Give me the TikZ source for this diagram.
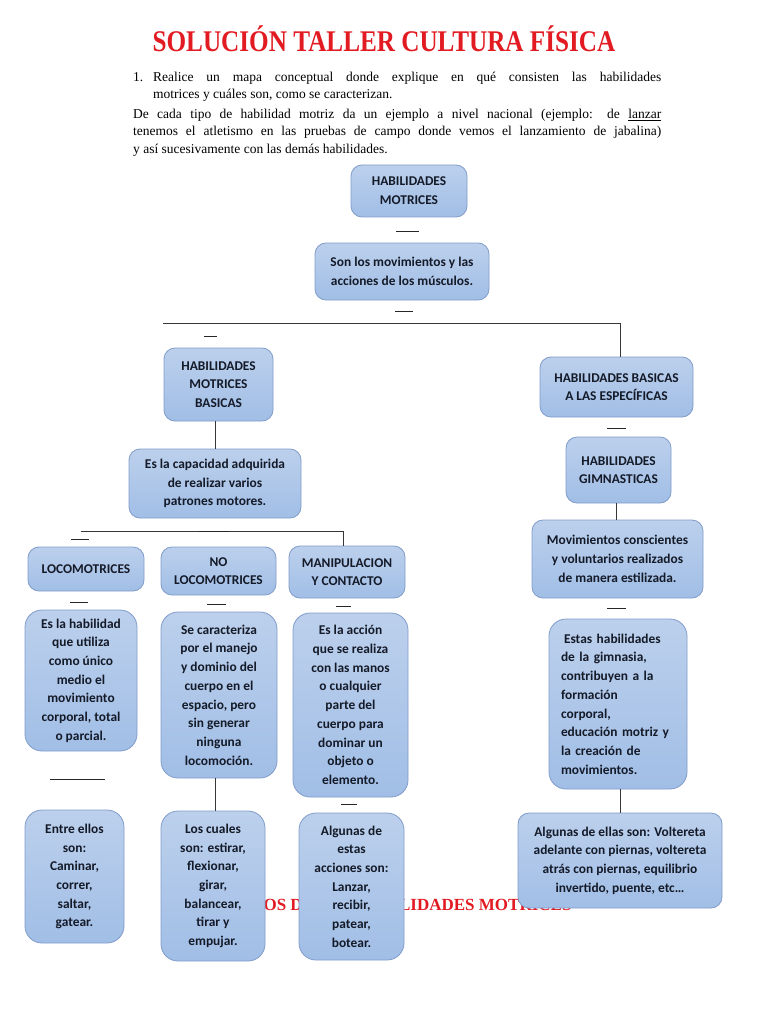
\documentclass[tikz,border=0pt]{standalone}
\usepackage{fontspec}
\setmainfont{Liberation Serif}
\newfontfamily\boxfont{Carlito}
\definecolor{titlered}{RGB}{226,27,34}
\definecolor{boxtop}{RGB}{188,208,236}
\definecolor{boxbot}{RGB}{161,190,230}
\definecolor{boxline}{RGB}{128,156,202}
\definecolor{boxtext}{RGB}{20,26,40}
\definecolor{linkgray}{RGB}{55,55,55}
\tikzset{
  mapbox/.style={draw=boxline, line width=0.8pt, rounded corners=11pt,
    top color=boxtop, bottom color=boxbot, text=boxtext, align=center,
    inner sep=2pt, font=\boxfont\bfseries\fontsize{13.4}{18.7}\selectfont},
  tallbox/.style={mapbox, rounded corners=17pt},
  link/.style={draw=linkgray, line width=0.9pt},
  tick/.style={draw=black!85, line width=1pt},
  bodytext/.style={anchor=base west, inner sep=0pt, font=\fontsize{13.5}{17}\selectfont},
}
\begin{document}
\begin{tikzpicture}[x=1pt, y=-1pt]
\useasboundingbox[fill=white] (0,0) rectangle (768,1024);

% heading and task
\node[anchor=base, inner sep=0pt, text=titlered, font=\bfseries\fontsize{30}{32}\selectfont]
  (title) at (384,52) {\scalebox{0.84}[1]{SOLUCIÓN TALLER CULTURA FÍSICA}};
\node[bodytext] (line1) at (133,82) {\makebox[20pt][l]{1.}\makebox[508pt][s]{Realice un mapa conceptual donde explique en qué consisten las habilidades}};
\node[bodytext] (line2) at (153,99) {motrices y cuáles son, como se caracterizan.};
\node[bodytext] (line3) at (133,119) {\makebox[528pt][s]{De cada tipo de habilidad motriz da un ejemplo a nivel nacional (ejemplo: de \underline{lanzar}}};
\node[bodytext] (line4) at (133,136) {\makebox[528pt][s]{tenemos el atletismo en las pruebas de campo donde vemos el lanzamiento de jabalina)}};
\node[bodytext] (line5) at (133,154) {y así sucesivamente con las demás habilidades.};

% red heading hidden behind the boxes
\node[anchor=base west, inner sep=0pt, text=titlered, font=\bfseries\fontsize{17}{19}\selectfont]
  (types) at (235,910) {TIPOS DE LAS HABILIDADES MOTRICES};

% top of the map
\node[mapbox, minimum width=116pt, minimum height=52pt] (motrices) at (409,191) {HABILIDADES\\MOTRICES};
\node[mapbox, minimum width=174pt, minimum height=57pt] (movs) at (402,271.5) {Son los movimientos y las\\acciones de los músculos.};

% left branch
\node[mapbox, minimum width=109pt, minimum height=73pt] (basicas) at (218.5,384.5) {HABILIDADES\\MOTRICES\\BASICAS};
\node[mapbox, minimum width=172pt, minimum height=69pt] (capacidad) at (215,483.5) {Es la capacidad adquirida\\de realizar varios\\patrones motores.};

\node[mapbox, minimum width=116pt, minimum height=44pt] (loco) at (86,569) {LOCOMOTRICES};
\node[mapbox, minimum width=115pt, minimum height=48pt] (noloco) at (218.5,571) {NO\\LOCOMOTRICES};
\node[mapbox, minimum width=116pt, minimum height=52pt] (manip) at (347,572) {MANIPULACION\\Y CONTACTO};

\node[tallbox, minimum width=112pt, minimum height=141pt] (locodef) at (81,680.5)
  {Es la habilidad\\que utiliza\\como único\\medio el\\movimiento\\corporal, total\\o parcial.};
\node[tallbox, minimum width=116pt, minimum height=166pt] (nolocodef) at (219,695)
  {Se caracteriza\\por el manejo\\y dominio del\\cuerpo en el\\espacio, pero\\sin generar\\ninguna\\locomoción.};
\node[tallbox, minimum width=115pt, minimum height=184pt] (manipdef) at (350.5,705)
  {Es la acción\\que se realiza\\con las manos\\o cualquier\\parte del\\cuerpo para\\dominar un\\objeto o\\elemento.};

\node[tallbox, minimum width=99pt, minimum height=133pt] (locoej) at (74.5,876.5)
  {Entre ellos\\son:\\Caminar,\\correr,\\saltar,\\gatear.};
\node[tallbox, minimum width=104pt, minimum height=150pt] (nolocoej) at (213,886)
  {Los cuales\\son: estirar,\\flexionar,\\girar,\\balancear,\\tirar y\\empujar.};
\node[tallbox, minimum width=105pt, minimum height=147pt] (manipej) at (351.5,886.5)
  {Algunas de\\estas\\acciones son:\\Lanzar,\\recibir,\\patear,\\botear.};

% right branch
\node[mapbox, minimum width=153pt, minimum height=60pt] (especificas) at (616.5,387) {HABILIDADES BASICAS\\A LAS ESPECÍFICAS};
\node[mapbox, minimum width=105pt, minimum height=66pt] (gimn) at (618.5,470) {HABILIDADES\\GIMNASTICAS};
\node[mapbox, minimum width=171pt, minimum height=78pt] (gimndef) at (617.5,559) {Movimientos conscientes\\y voluntarios realizados\\de manera estilizada.};
\node[tallbox, minimum width=138pt, minimum height=170pt, text width=114pt, align=left] (gimnaporte) at (618,704)
  {\hspace{3pt}Estas habilidades\\de la gimnasia,\\contribuyen a la\\formación\\corporal,\\educación motriz y\\la creación de\\movimientos.};
\node[mapbox, minimum width=204pt, minimum height=95pt] (gimnej) at (620,860.5)
  {Algunas de ellas son: Voltereta\\adelante con piernas, voltereta\\atrás con piernas, equilibrio\\invertido, puente, etc…};

% connectors
\coordinate (topleft) at (163,323);
\coordinate (midleft) at (81,531);
\draw[link] (topleft) -| ([xshift=4pt]especificas.north);
\draw[link] (midleft) -| ([xshift=-4pt]manip.north);
\draw[link] (basicas.south -| capacidad.north) -- (capacidad.north);
\draw[link] ([xshift=-4pt]nolocodef.south) -- ([xshift=-4pt]nolocodef.south |- nolocoej.north);
\draw[link] ([xshift=-2pt]gimn.south) -- ([xshift=-2pt]gimn.south |- gimndef.north);
\draw[link] ([xshift=2pt]gimnaporte.south) -- ([xshift=2pt]gimnaporte.south |- gimnej.north);

% loose dashes
\foreach \xa/\xb/\yy in {396/419/232, 395/413/311, 204/217/336, 71/89/539, 199/229/531,
    607/626/428, 70/88/602, 207/226/604, 336/351/606, 607/626/608, 50/105/779, 341/357/804}
  \draw[tick] (\xa,\yy) -- (\xb,\yy);
\end{tikzpicture}
\end{document}
